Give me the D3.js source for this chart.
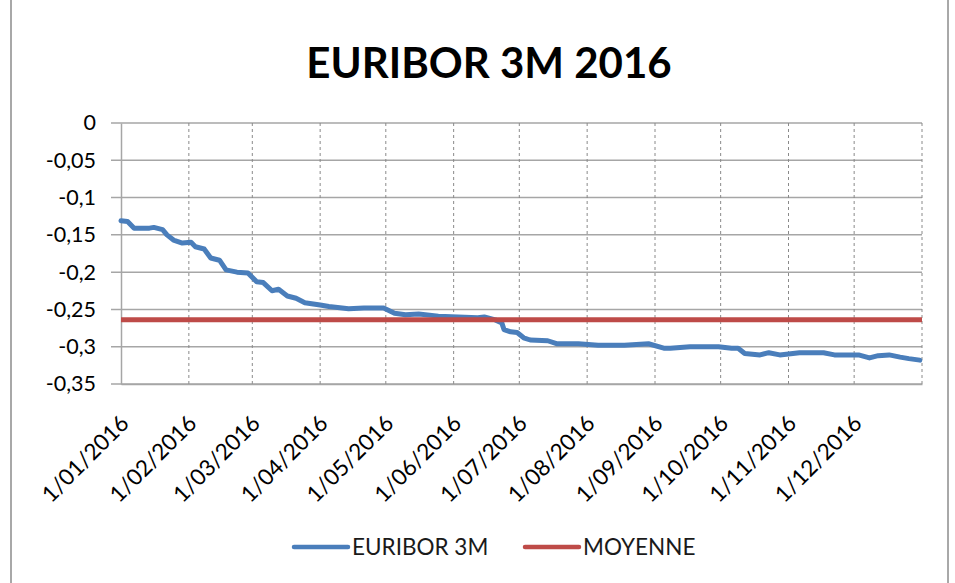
<!DOCTYPE html>
<html>
<head>
<meta charset="utf-8">
<script src="https://cdn.jsdelivr.net/npm/d3@7"></script>
<style>
	body { margin: 0 ; background: #ffffff ; }
	svg { display: block ; }
</style>
</head>
<body>
<div id="chart"></div>
<script>

const viewWidth = 955 ;
const viewHeight = 583 ;

// euribor 3 month fixings
const euriborDates = [
	"2016-01-01", "2016-01-04", "2016-01-07", "2016-01-14", "2016-01-16", "2016-01-20", "2016-01-22",
	"2016-01-25", "2016-01-29", "2016-02-02", "2016-02-04", "2016-02-08", "2016-02-11", "2016-02-15",
	"2016-02-18", "2016-02-23", "2016-02-28", "2016-03-03", "2016-03-06", "2016-03-10", "2016-03-13",
	"2016-03-17", "2016-03-21", "2016-03-25", "2016-04-01", "2016-04-05", "2016-04-11", "2016-04-14",
	"2016-04-21", "2016-04-30", "2016-05-05", "2016-05-10", "2016-05-16", "2016-05-25", "2016-06-03",
	"2016-06-12", "2016-06-15", "2016-06-20", "2016-06-23", "2016-06-24", "2016-06-27", "2016-06-30",
	"2016-07-03", "2016-07-06", "2016-07-14", "2016-07-18", "2016-07-28", "2016-08-06", "2016-08-18",
	"2016-08-29", "2016-09-05", "2016-09-08", "2016-09-17", "2016-09-30", "2016-10-06", "2016-10-09",
	"2016-10-12", "2016-10-19", "2016-10-23", "2016-10-28", "2016-11-06", "2016-11-17", "2016-11-22",
	"2016-12-03", "2016-12-08", "2016-12-12", "2016-12-17", "2016-12-22", "2016-12-26", "2016-12-31"
] ;
const euriborValues = [
	-0.131, -0.132, -0.141, -0.141, -0.140, -0.143, -0.150,
	-0.157, -0.161, -0.160, -0.166, -0.169, -0.181, -0.184,
	-0.197, -0.200, -0.201, -0.213, -0.214, -0.225, -0.223,
	-0.232, -0.235, -0.241, -0.244, -0.246, -0.248, -0.249,
	-0.248, -0.248, -0.255, -0.257, -0.256, -0.259, -0.260,
	-0.261, -0.260, -0.264, -0.268, -0.277, -0.280, -0.281,
	-0.288, -0.291, -0.292, -0.296, -0.296, -0.298, -0.298,
	-0.296, -0.302, -0.302, -0.300, -0.300, -0.302, -0.302,
	-0.309, -0.311, -0.308, -0.311, -0.308, -0.308, -0.311,
	-0.311, -0.315, -0.312, -0.311, -0.314, -0.316, -0.318
] ;
const moyenneValue = -0.264 ;

const yTicks = [ 0, -0.05, -0.1, -0.15, -0.2, -0.25, -0.3, -0.35 ] ;
const seriesNames = [ "EURIBOR 3M", "MOYENNE" ] ;
const seriesColors = [ "#4a7ebb", "#be4b48" ] ;
const chartTitle = "EURIBOR 3M 2016" ;

const plotLeft = 121 ;
const plotRight = 922 ;
const plotTop = 123 ;
const plotBottom = 384 ;

const parseDate = d3.timeParse( "%Y-%m-%d" ) ;
const frLocale = d3.formatLocale( { decimal: ",", thousands: " ", grouping: [3], currency: [ "", " €" ], minus: "-" } ) ;
const yFormat = frLocale.format( "" ) ;
const xFormat = function(d) { return "1/" + d3.timeFormat( "%m/%Y" )(d) ; } ;

var lineData = [] ;
for( var i=0 ; i<euriborDates.length ; i++ ) {
	lineData.push( { date: parseDate( euriborDates[i] ), value: euriborValues[i] } ) ;
}

const svg = d3.select( "#chart" ).append( "svg" )
	.attr( "width", viewWidth )
	.attr( "height", viewHeight )
	.style( "font-family", "Lato, 'Open Sans', sans-serif" ) ;

// chart frame
svg.append( "rect" )
	.attr( "x", 11 ).attr( "y", -4 )
	.attr( "width", 937 ).attr( "height", 600 )
	.attr( "fill", "none" )
	.attr( "stroke", "#8c8c8c" )
	.attr( "stroke-width", 1.5 ) ;

const x = d3.scaleTime()
	.domain( [ parseDate( "2016-01-01" ), parseDate( "2017-01-01" ) ] )
	.range( [ plotLeft, plotRight ] ) ;

const y = d3.scaleLinear()
	.domain( [ -0.35, 0 ] )
	.range( [ plotBottom, plotTop ] ) ;

const monthTicks = d3.timeMonth.range( parseDate( "2016-01-01" ), parseDate( "2017-01-02" ) ) ;

// horizontal grid
svg.append( "g" )
	.selectAll( "line" )
	.data( yTicks )
	.enter().append( "line" )
		.attr( "x1", plotLeft - 10 )
		.attr( "x2", plotRight )
		.attr( "y1", function(d) { return y(d) ; } )
		.attr( "y2", function(d) { return y(d) ; } )
		.attr( "stroke", "#a6a6a6" )
		.attr( "stroke-width", 1.5 ) ;

// vertical dashed grid
svg.append( "g" )
	.selectAll( "line" )
	.data( monthTicks.slice( 1 ) )
	.enter().append( "line" )
		.attr( "x1", function(d) { return x(d) ; } )
		.attr( "x2", function(d) { return x(d) ; } )
		.attr( "y1", plotTop )
		.attr( "y2", plotBottom )
		.attr( "stroke", "#8a8a8a" )
		.attr( "stroke-width", 1 )
		.attr( "stroke-dasharray", "3,3" ) ;

// y axis
const yAxis = svg.append( "g" )
	.attr( "transform", "translate(" + plotLeft + ",0)" )
	.call( d3.axisLeft( y ).tickValues( yTicks ).tickFormat( yFormat ).tickSize( 0 ).tickPadding( 25 ) ) ;
yAxis.select( ".domain" ).attr( "stroke", "#a6a6a6" ).attr( "stroke-width", 1.5 ) ;
yAxis.selectAll( "text" )
	.attr( "font-size", 21.5 )
	.attr( "fill", "#000" )
	.attr( "font-family", "Lato, sans-serif" ) ;

// x axis
const xAxis = svg.append( "g" )
	.attr( "transform", "translate(0," + plotBottom + ")" )
	.call( d3.axisBottom( x ).tickValues( monthTicks.slice( 0, 12 ) ).tickFormat( xFormat ).tickSize( 0 ) ) ;
xAxis.select( ".domain" ).attr( "stroke", "#a6a6a6" ).attr( "stroke-width", 1.5 ) ;
xAxis.selectAll( "text" )
	.attr( "font-size", 22.5 )
	.attr( "fill", "#000" )
	.attr( "font-family", "Lato, sans-serif" )
	.attr( "text-anchor", "end" )
	.attr( "dy", "0.35em" )
	.attr( "transform", "translate(1,33) rotate(-45)" ) ;

// series
const line = d3.line()
	.x( function(d) { return x(d.date) ; } )
	.y( function(d) { return y(d.value) ; } ) ;

svg.append( "path" )
	.datum( lineData )
	.attr( "d", line )
	.attr( "fill", "none" )
	.attr( "stroke", seriesColors[0] )
	.attr( "stroke-width", 5 )
	.attr( "stroke-linejoin", "round" )
	.attr( "stroke-linecap", "round" ) ;

svg.append( "line" )
	.attr( "x1", plotLeft )
	.attr( "x2", plotRight )
	.attr( "y1", y( moyenneValue ) )
	.attr( "y2", y( moyenneValue ) )
	.attr( "stroke", seriesColors[1] )
	.attr( "stroke-width", 5 ) ;

// title
svg.append( "text" )
	.attr( "x", 489 )
	.attr( "y", 78 )
	.attr( "text-anchor", "middle" )
	.attr( "font-size", 42 )
	.attr( "font-weight", "bold" )
	.attr( "fill", "#000" )
	.text( chartTitle ) ;

// legend
const legendX = [ 294, 525 ] ;
const legend = svg.append( "g" )
	.selectAll( "g" )
	.data( seriesNames )
	.enter().append( "g" )
		.attr( "transform", function(d, i) { return "translate(" + legendX[i] + ",547)" ; } ) ;
legend.append( "line" )
	.attr( "x1", 0 ).attr( "x2", 54 )
	.attr( "stroke", function(d, i) { return seriesColors[i] ; } )
	.attr( "stroke-width", 4.5 )
	.attr( "stroke-linecap", "round" ) ;
legend.append( "text" )
	.attr( "x", 58 )
	.attr( "dy", "0.36em" )
	.attr( "font-size", 22.5 )
	.attr( "fill", "#1a1a1a" )
	.text( function(d) { return d ; } ) ;

</script>
</body>
</html>
